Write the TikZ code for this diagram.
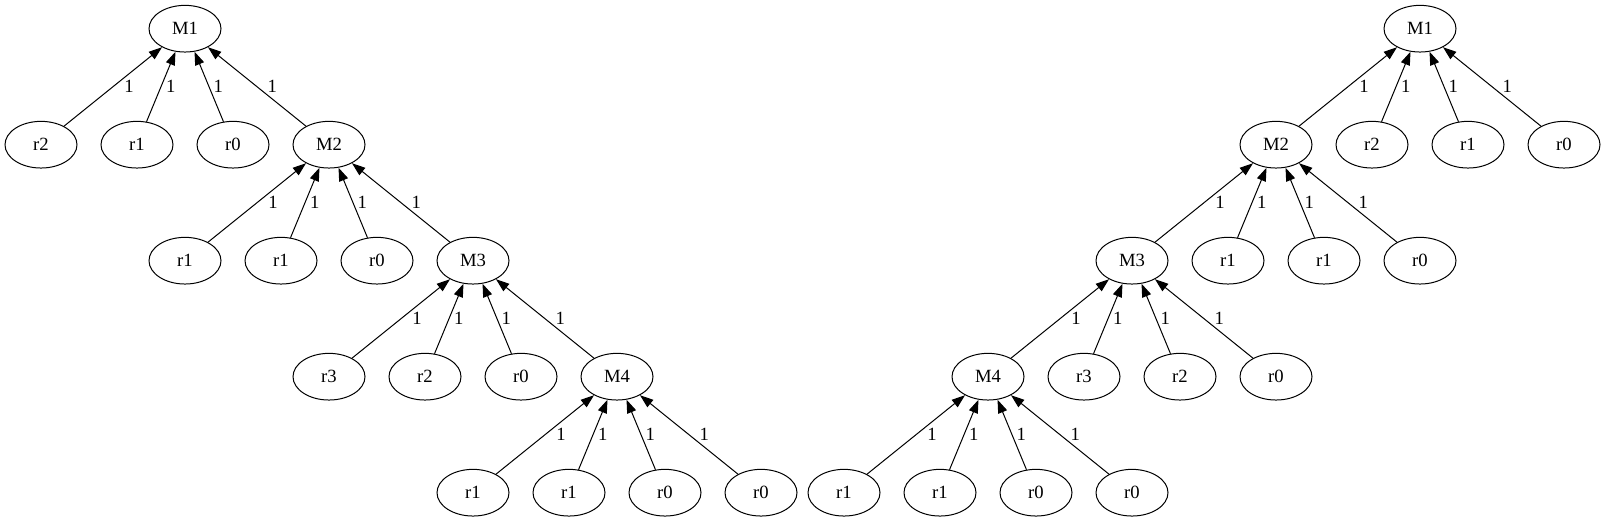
\documentclass[tikz,border=0pt]{standalone}
\usepackage{fontspec}
\setmainfont{Liberation Serif}
\usetikzlibrary{shapes.geometric,arrows.meta,calc}
\tikzset{
  tnode/.style={draw, ellipse, line width=0.75pt, inner sep=0pt, minimum width=54pt, minimum height=35pt, font=\fontsize{14pt}{16pt}\selectfont},
  tedge/.style={line width=0.75pt, -{Triangle[length=10pt,width=7pt]}},
  tlbl/.style={inner sep=0pt, font=\fontsize{14pt}{16pt}\selectfont}
}
\newcommand\grpedges[5]{%
  \draw[tedge] (#2) -- (#1);
  \draw[tedge] (#3) -- (#1);
  \draw[tedge] (#4) -- (#1);
  \draw[tedge] (#5) -- (#1);
  \node[tlbl] (#1-l1) at ($(#1)+(-56,58)$) {1};
  \node[tlbl] (#1-l2) at ($(#1)+(-14.3,58)$) {1};
  \node[tlbl] (#1-l3) at ($(#1)+(33.3,58)$) {1};
  \node[tlbl] (#1-l4) at ($(#1)+(87.3,58)$) {1};
}
\begin{document}
\begin{tikzpicture}[x=0.75pt,y=-0.75pt]
\useasboundingbox (0,0) rectangle (1606,523);
% left tree
\node[tnode] (LM1) at (185,28.7) {M1};
\node[tnode] (Lr11) at (41,144.7) {r2};
\node[tnode] (Lr12) at (137,144.7) {r1};
\node[tnode] (Lr13) at (233,144.7) {r0};
\node[tnode] (LM2) at (329,144.7) {M2};
\node[tnode] (Lr21) at (185,260.7) {r1};
\node[tnode] (Lr22) at (281,260.7) {r1};
\node[tnode] (Lr23) at (377,260.7) {r0};
\node[tnode] (LM3) at (473,260.7) {M3};
\node[tnode] (Lr31) at (329,376.7) {r3};
\node[tnode] (Lr32) at (425,376.7) {r2};
\node[tnode] (Lr33) at (521,376.7) {r0};
\node[tnode] (LM4) at (617,376.7) {M4};
\node[tnode] (Lr41) at (473,492.7) {r1};
\node[tnode] (Lr42) at (569,492.7) {r1};
\node[tnode] (Lr43) at (665,492.7) {r0};
\node[tnode] (Lr44) at (761,492.7) {r0};
% right tree
\node[tnode] (RM1) at (1420,28.7) {M1};
\node[tnode] (RM2) at (1276,144.7) {M2};
\node[tnode] (Rr11) at (1372,144.7) {r2};
\node[tnode] (Rr12) at (1468,144.7) {r1};
\node[tnode] (Rr13) at (1564,144.7) {r0};
\node[tnode] (RM3) at (1132,260.7) {M3};
\node[tnode] (Rr21) at (1228,260.7) {r1};
\node[tnode] (Rr22) at (1324,260.7) {r1};
\node[tnode] (Rr23) at (1420,260.7) {r0};
\node[tnode] (RM4) at (988,376.7) {M4};
\node[tnode] (Rr31) at (1084,376.7) {r3};
\node[tnode] (Rr32) at (1180,376.7) {r2};
\node[tnode] (Rr33) at (1276,376.7) {r0};
\node[tnode] (Rr41) at (844,492.7) {r1};
\node[tnode] (Rr42) at (940,492.7) {r1};
\node[tnode] (Rr43) at (1036,492.7) {r0};
\node[tnode] (Rr44) at (1132,492.7) {r0};
% edges
\grpedges{LM1}{Lr11}{Lr12}{Lr13}{LM2}
\grpedges{LM2}{Lr21}{Lr22}{Lr23}{LM3}
\grpedges{LM3}{Lr31}{Lr32}{Lr33}{LM4}
\grpedges{LM4}{Lr41}{Lr42}{Lr43}{Lr44}
\grpedges{RM1}{RM2}{Rr11}{Rr12}{Rr13}
\grpedges{RM2}{RM3}{Rr21}{Rr22}{Rr23}
\grpedges{RM3}{RM4}{Rr31}{Rr32}{Rr33}
\grpedges{RM4}{Rr41}{Rr42}{Rr43}{Rr44}
\end{tikzpicture}
\end{document}
